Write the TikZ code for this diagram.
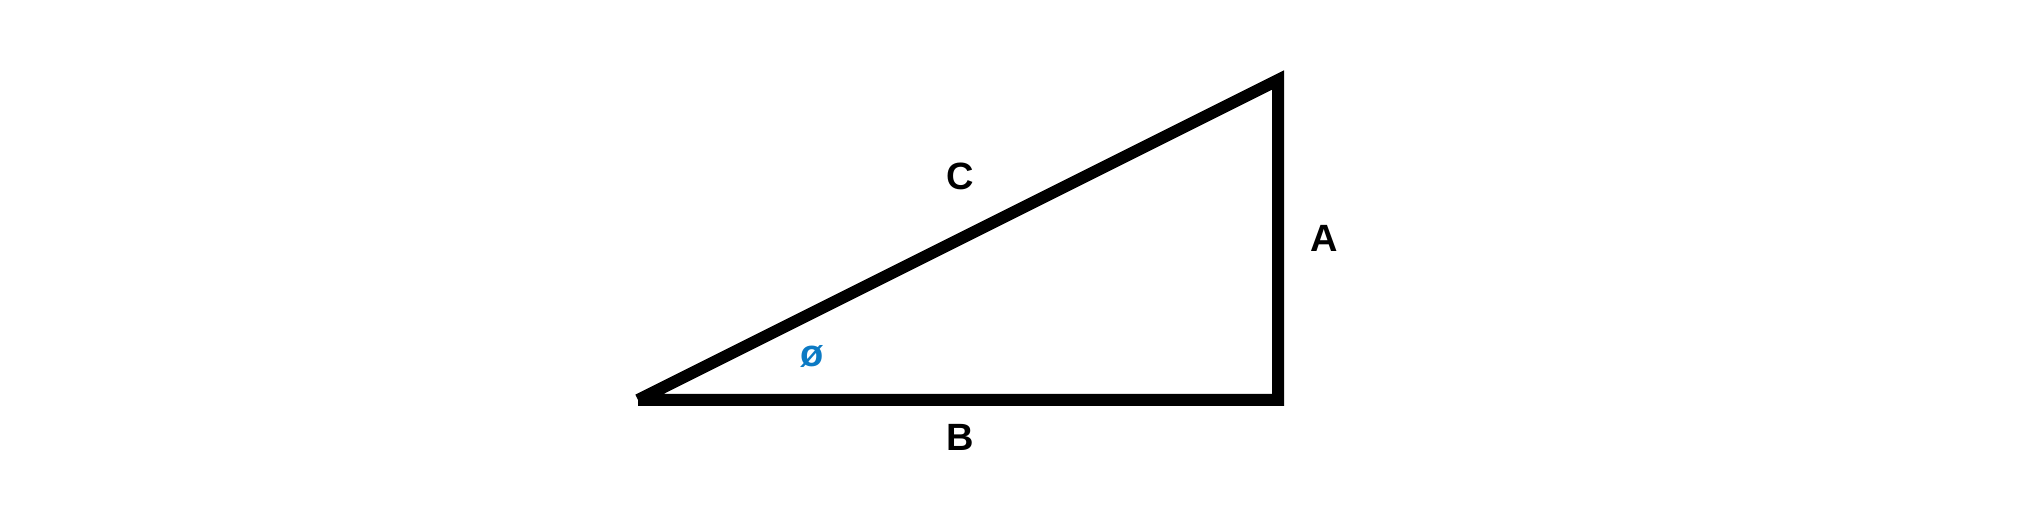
\documentclass[tikz,border=0pt]{standalone}
\usepackage{fontspec}
\setmainfont{Liberation Sans}
\definecolor{phiblue}{RGB}{12,122,196}

\begin{document}
\begin{tikzpicture}[x=0.5pt, y=-0.5pt, line width=6pt,
        every node/.style={font=\fontsize{19}{22}\selectfont\bfseries}]
        \useasboundingbox (0,0) rectangle (2024,522);

        \coordinate (left) at (638,400);
        \coordinate (top) at (1278,80);
        \coordinate (right) at (1278,400);

        \node (c) at (960,176) {C};
        \node (a) at (1324,238) {A};
        \node (b) at (960,437) {B};
        \node[text=phiblue] (angle) at (812,357) {ø};

        \draw (left) -- (top) -- (right) -- (left);
    \end{tikzpicture}
\end{document}
